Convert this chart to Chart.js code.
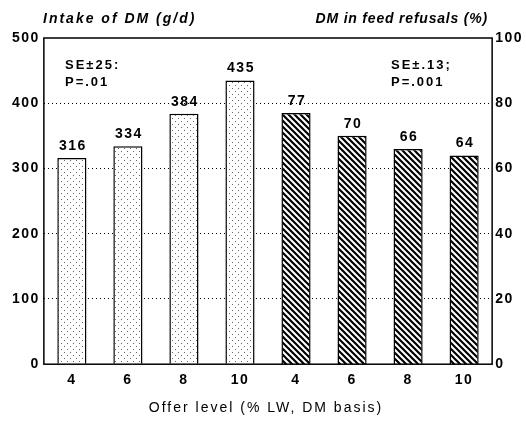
<!DOCTYPE html>
<html>
<head>
<meta charset="utf-8">
<script src="https://cdn.jsdelivr.net/npm/chart.js@4/dist/chart.umd.min.js"></script>
<style>
  html, body { margin: 0; padding: 0; background: #fff; }
  #wrap { width: 526px; height: 422px; }
</style>
</head>
<body>
<div id="wrap"><canvas id="chart"></canvas></div>
<script>
const offerLevels = ["4", "6", "8", "10", "4", "6", "8", "10"];
const intakeDM = [316, 334, 384, 435, null, null, null, null];
const refusalDM = [null, null, null, null, 77, 70, 66, 64];
const leftTicks = [0, 100, 200, 300, 400, 500];
const rightTicks = [0, 20, 40, 60, 80, 100];
const notes = [["SE\u00b125:", "P=.01"], ["SE\u00b1.13;", "P=.001"]];
const xTitle = "Offer level (% LW, DM basis)";

const FONT = "'Liberation Sans', Arial, Helvetica, sans-serif";
const SPACING = "1.5px";

function makePattern(kind) {
  const c = document.createElement("canvas");
  const s = 6;
  c.width = s; c.height = s;
  const g = c.getContext("2d");
  g.fillStyle = "#fff";
  g.fillRect(0, 0, s, s);
  if (kind === "dots") {
    g.fillStyle = "#666";
    g.fillRect(1, 1, 1, 1);
    g.fillRect(4, 4, 1, 1);
  } else {
    g.strokeStyle = "#000";
    g.lineWidth = 2.2;
    g.beginPath();
    g.moveTo(-1, -1); g.lineTo(s + 1, s + 1);
    g.moveTo(-1, s - 1); g.lineTo(1, s + 1);
    g.moveTo(s - 1, -1); g.lineTo(s + 1, 1);
    g.stroke();
  }
  return document.createElement("canvas").getContext("2d").createPattern(c, "repeat");
}

// the source figure uses a wide Helvetica; a little letter spacing on every text
const spacing = {
  id: "spacing",
  beforeUpdate(chart) { chart.ctx.letterSpacing = SPACING; },
  beforeDraw(chart) { chart.ctx.letterSpacing = SPACING; },
};

const extras = {
  id: "extras",
  afterDraw(chart) {
    const ctx = chart.ctx;
    const a = chart.chartArea;
    ctx.save();
    // frame
    ctx.strokeStyle = "#000";
    ctx.lineWidth = 1.5;
    ctx.strokeRect(a.left, a.top, a.right - a.left, a.bottom - a.top);
    // value labels
    ctx.fillStyle = "#000";
    ctx.letterSpacing = SPACING;
    ctx.font = "bold 14px " + FONT;
    ctx.textAlign = "center";
    ctx.textBaseline = "bottom";
    chart.data.datasets.forEach((ds, i) => {
      chart.getDatasetMeta(i).data.forEach((bar, j) => {
        if (ds.data[j] == null) return;
        ctx.fillText(String(ds.data[j]), bar.x + 1, bar.y - 5);
      });
    });
    // SE notes
    ctx.letterSpacing = "2px";
    ctx.font = "bold 13px " + FONT;
    ctx.textAlign = "left";
    ctx.textBaseline = "middle";
    ctx.fillText(notes[0][0], 65, 65);
    ctx.fillText(notes[0][1], 65, 82);
    ctx.fillText(notes[1][0], 391, 65);
    ctx.fillText(notes[1][1], 391, 82);
    // axis headings
    ctx.font = "italic bold 14px " + FONT;
    ctx.textAlign = "left";
    ctx.fillText("Intake of DM (g/d)", 43, 19);
    ctx.letterSpacing = "0.8px";
    ctx.textAlign = "right";
    ctx.fillText("DM in feed refusals (%)", 488, 19);
    // x title
    ctx.letterSpacing = "2px";
    ctx.font = "14px " + FONT;
    ctx.textAlign = "center";
    ctx.fillText(xTitle, (a.left + a.right) / 2 - 2, 408);
    ctx.restore();
  }
};

new Chart(document.getElementById("chart"), {
  type: "bar",
  data: {
    labels: offerLevels,
    datasets: [
      {
        label: "Intake of DM (g/d)",
        data: intakeDM,
        yAxisID: "y",
        backgroundColor: makePattern("dots"),
        borderColor: "#000",
        borderWidth: 1.5,
      },
      {
        label: "DM in feed refusals (%)",
        data: refusalDM,
        yAxisID: "y1",
        backgroundColor: makePattern("hatch"),
        borderColor: "#000",
        borderWidth: 1.5,
      },
    ],
  },
  options: {
    responsive: true,
    maintainAspectRatio: false,
    animation: false,
    layout: { padding: { top: 38, left: 8, right: 0, bottom: 25 } },
    datasets: { bar: { grouped: false, categoryPercentage: 1, barPercentage: 0.52 } },
    plugins: { legend: { display: false }, tooltip: { enabled: false } },
    scales: {
      x: {
        grid: { display: false, drawTicks: false },
        border: { display: false },
        ticks: { color: "#000", font: { family: FONT, size: 14, weight: "bold" }, padding: 8 },
      },
      y: {
        position: "left",
        min: 0,
        max: 500,
        afterBuildTicks: (s) => { s.ticks = leftTicks.map((v) => ({ value: v })); },
        grid: {
          color: (c) => (c.tick.value === 0 || c.tick.value === 500 ? "rgba(0,0,0,0)" : "#000"),
          lineWidth: 1,
          drawTicks: false,
        },
        border: { display: false, dash: [1, 3] },
        ticks: { color: "#000", font: { family: FONT, size: 14, weight: "bold" }, padding: 4 },
      },
      y1: {
        position: "right",
        min: 0,
        max: 100,
        afterBuildTicks: (s) => { s.ticks = rightTicks.map((v) => ({ value: v })); },
        grid: { display: false, drawTicks: false },
        border: { display: false },
        ticks: { color: "#000", font: { family: FONT, size: 14, weight: "bold" }, padding: 3 },
      },
    },
  },
  plugins: [spacing, extras],
});
</script>
</body>
</html>
